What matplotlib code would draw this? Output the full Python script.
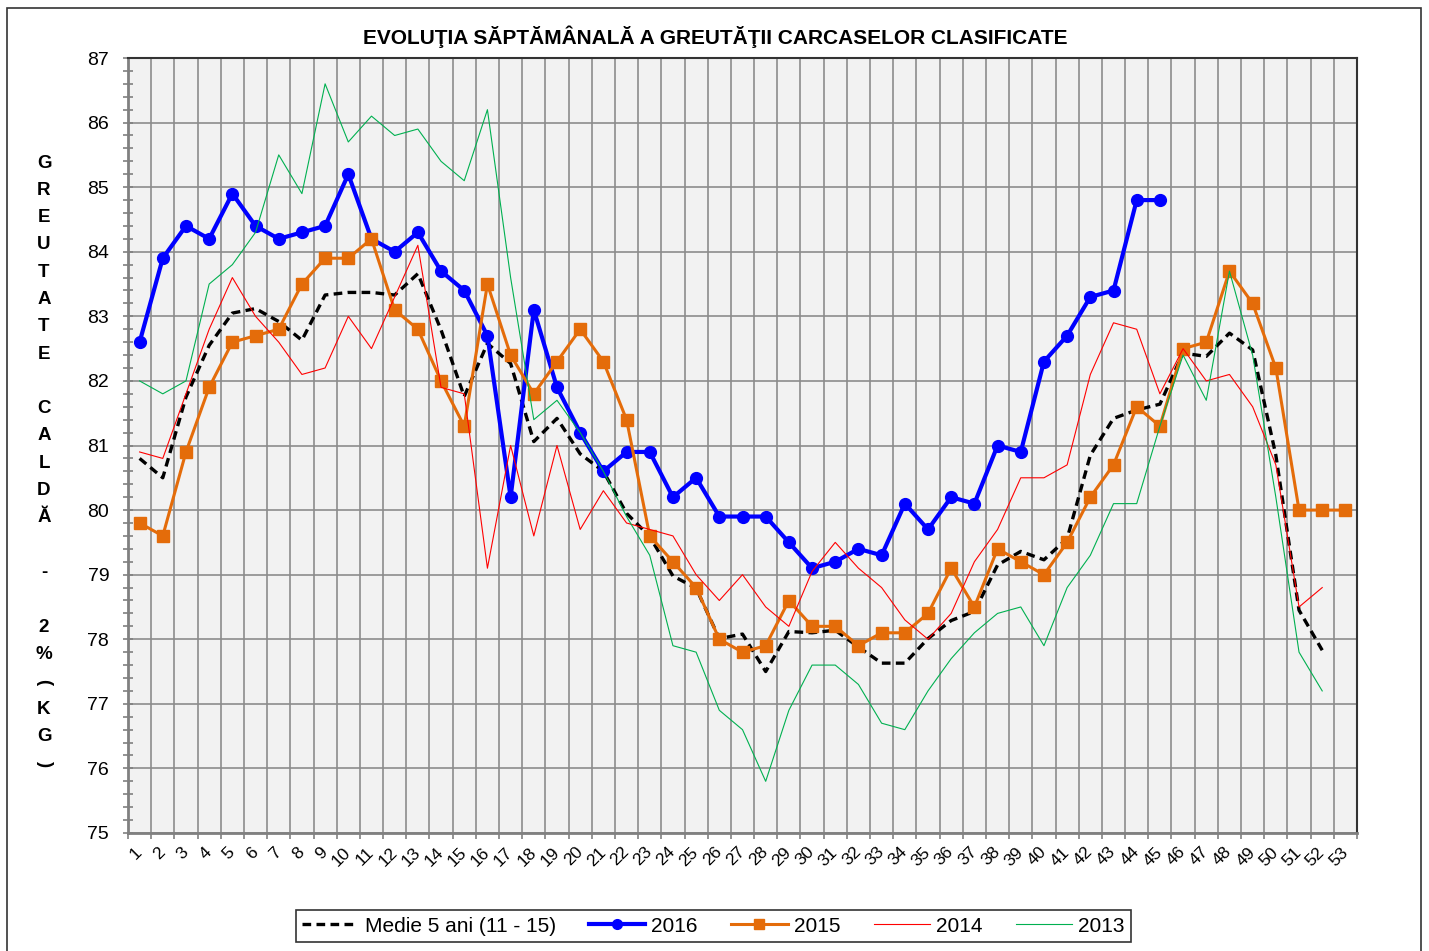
import numpy as np
import matplotlib
matplotlib.use('Agg')
import matplotlib.pyplot as plt
from matplotlib import font_manager
from matplotlib.patches import Rectangle

names = {f.name for f in font_manager.fontManager.ttflist}
base_font = 'Liberation Sans' if 'Liberation Sans' in names else 'DejaVu Sans'
plt.rcParams['font.family'] = [base_font, 'DejaVu Sans']

nan = np.nan
weeks = list(range(1, 54))

medie = [80.8, 80.5, 81.75, 82.55, 83.05, 83.12, 82.92, 82.63, 83.33, 83.37,
         83.37, 83.33, 83.66, 82.79, 81.76, 82.58, 82.27, 81.06, 81.42, 80.87,
         80.6, 79.95, 79.59, 78.98, 78.79, 78.01, 78.08, 77.5, 78.12, 78.1,
         78.14, 77.88, 77.63, 77.63, 78.01, 78.29, 78.43, 79.15, 79.36, 79.23,
         79.56, 80.85, 81.42, 81.55, 81.64, 82.43, 82.38, 82.74, 82.48, 80.85,
         78.45, 77.83, nan]
y2016 = [82.6, 83.9, 84.4, 84.2, 84.9, 84.4, 84.2, 84.3, 84.4, 85.2,
         84.2, 84.0, 84.3, 83.7, 83.4, 82.7, 80.2, 83.1, 81.9, 81.2,
         80.6, 80.9, 80.9, 80.2, 80.5, 79.9, 79.9, 79.9, 79.5, 79.1,
         79.2, 79.4, 79.3, 80.1, 79.7, 80.2, 80.1, 81.0, 80.9, 82.3,
         82.7, 83.3, 83.4, 84.8, 84.8] + [nan] * 8
y2015 = [79.8, 79.6, 80.9, 81.9, 82.6, 82.7, 82.8, 83.5, 83.9, 83.9,
         84.2, 83.1, 82.8, 82.0, 81.3, 83.5, 82.4, 81.8, 82.3, 82.8,
         82.3, 81.4, 79.6, 79.2, 78.8, 78.0, 77.8, 77.9, 78.6, 78.2,
         78.2, 77.9, 78.1, 78.1, 78.4, 79.1, 78.5, 79.4, 79.2, 79.0,
         79.5, 80.2, 80.7, 81.6, 81.3, 82.5, 82.6, 83.7, 83.2, 82.2,
         80.0, 80.0, 80.0]
y2014 = [80.9, 80.8, 81.8, 82.8, 83.6, 83.0, 82.6, 82.1, 82.2, 83.0,
         82.5, 83.3, 84.1, 81.9, 81.8, 79.1, 81.0, 79.6, 81.0, 79.7,
         80.3, 79.8, 79.7, 79.6, 79.0, 78.6, 79.0, 78.5, 78.2, 79.05,
         79.5, 79.1, 78.8, 78.3, 78.0, 78.4, 79.2, 79.7, 80.5, 80.5,
         80.7, 82.1, 82.9, 82.8, 81.8, 82.5, 82.0, 82.1, 81.6, 80.7,
         78.5, 78.8, nan]
y2013 = [82.0, 81.8, 82.0, 83.5, 83.8, 84.3, 85.5, 84.9, 86.6, 85.7,
         86.1, 85.8, 85.9, 85.4, 85.1, 86.2, 83.6, 81.4, 81.7, 81.2,
         80.6, 79.9, 79.3, 77.9, 77.8, 76.9, 76.6, 75.8, 76.9, 77.6,
         77.6, 77.3, 76.7, 76.6, 77.2, 77.7, 78.1, 78.4, 78.5, 77.9,
         78.8, 79.3, 80.1, 80.1, 81.3, 82.4, 81.7, 83.7, 82.4, 80.2,
         77.8, 77.2, nan]

titlu = 'EVOLUŢIA SĂPTĂMÂNALĂ A GREUTĂŢII CARCASELOR CLASIFICATE'
eticheta_y = 'GREUTATE CALDĂ - 2%(KG)'

W, H = 1429, 951
fig = plt.figure(figsize=(W / 100, H / 100), dpi=100)
ax = fig.add_axes([128 / W, 1 - 833 / H, (1357 - 128) / W, (833 - 58) / H])
ax.set_facecolor('#F2F2F2')

# chenar exterior
fig.patches.append(Rectangle((7 / W, -0.02), (1421 - 7) / W, 1.02 - 8 / H,
                             transform=fig.transFigure, fill=False,
                             edgecolor='#333333', lw=1.2))

ax.plot(weeks, medie, color='black', lw=2.4, dashes=(2.6, 1.6),
        label='Medie 5 ani (11 - 15)', zorder=3)
ax.plot(weeks, y2016, color='#0000FF', lw=3.0, marker='o', ms=8.5,
        label='2016', zorder=4)
ax.plot(weeks, y2015, color='#E46C0A', lw=2.2, marker='s', ms=8,
        label='2015', zorder=5)
ax.plot(weeks, y2014, color='#FF0000', lw=0.8, label='2014', zorder=6)
ax.plot(weeks, y2013, color='#00B050', lw=0.8, label='2013', zorder=7)

ax.set_xlim(0.5, 53.5)
ax.set_ylim(75, 87)
ax.set_yticks(range(75, 88))
ax.set_yticks(np.arange(75, 87.01, 0.2), minor=True)
ax.set_xticks(weeks)
ax.set_xticklabels([str(w) for w in weeks], rotation=45, ha='right',
                   va='center', rotation_mode='anchor', fontsize=12.5)
ax.set_xticks(np.arange(0.5, 53.6, 1), minor=True)
ax.tick_params(axis='x', which='major', length=0, pad=12)
ax.tick_params(axis='x', which='minor', length=4, direction='out',
               color='#808080', width=1.2)
ax.tick_params(axis='y', which='both', direction='inout', length=7,
               color='#808080', width=1.2, labelsize=14, pad=10)

ax.grid(True, which='major', axis='y', color='#8C8C8C', lw=1.2, zorder=1)
ax.grid(True, which='minor', axis='x', color='#8C8C8C', lw=1.2, zorder=1)
ax.set_axisbelow(True)

for s in ['left', 'bottom']:
    ax.spines[s].set_color('#808080')
    ax.spines[s].set_linewidth(2)
for s in ['top', 'right']:
    ax.spines[s].set_color('#333333')
    ax.spines[s].set_linewidth(1.5)

fig.text(715 / W, 1 - 37 / H, titlu, ha='center', va='center',
         fontsize=15, fontweight='bold')

# eticheta verticala, litera cu litera
y0 = 163
for i, ch in enumerate(eticheta_y):
    if ch == ' ':
        continue
    rot = -90 if ch in '()' else 0
    fig.text(44 / W, 1 - (y0 + i * 27.3) / H, ch, ha='center', va='center',
             fontsize=13.5, fontweight='bold', rotation=rot)

leg = fig.legend(loc='center', bbox_to_anchor=(713.5 / W, 1 - 926 / H),
                 ncol=5, frameon=True, fancybox=False, edgecolor='black',
                 prop={'size': 15},
                 handlelength=2.7, columnspacing=1.6, handletextpad=0.3,
                 borderpad=0.3, borderaxespad=0)
leg.get_frame().set_linewidth(1.2)
for h in leg.legend_handles:
    if h.get_marker() not in (None, 'None', ''):
        h.set_markersize(7)

fig.savefig('out.png', dpi=100)
